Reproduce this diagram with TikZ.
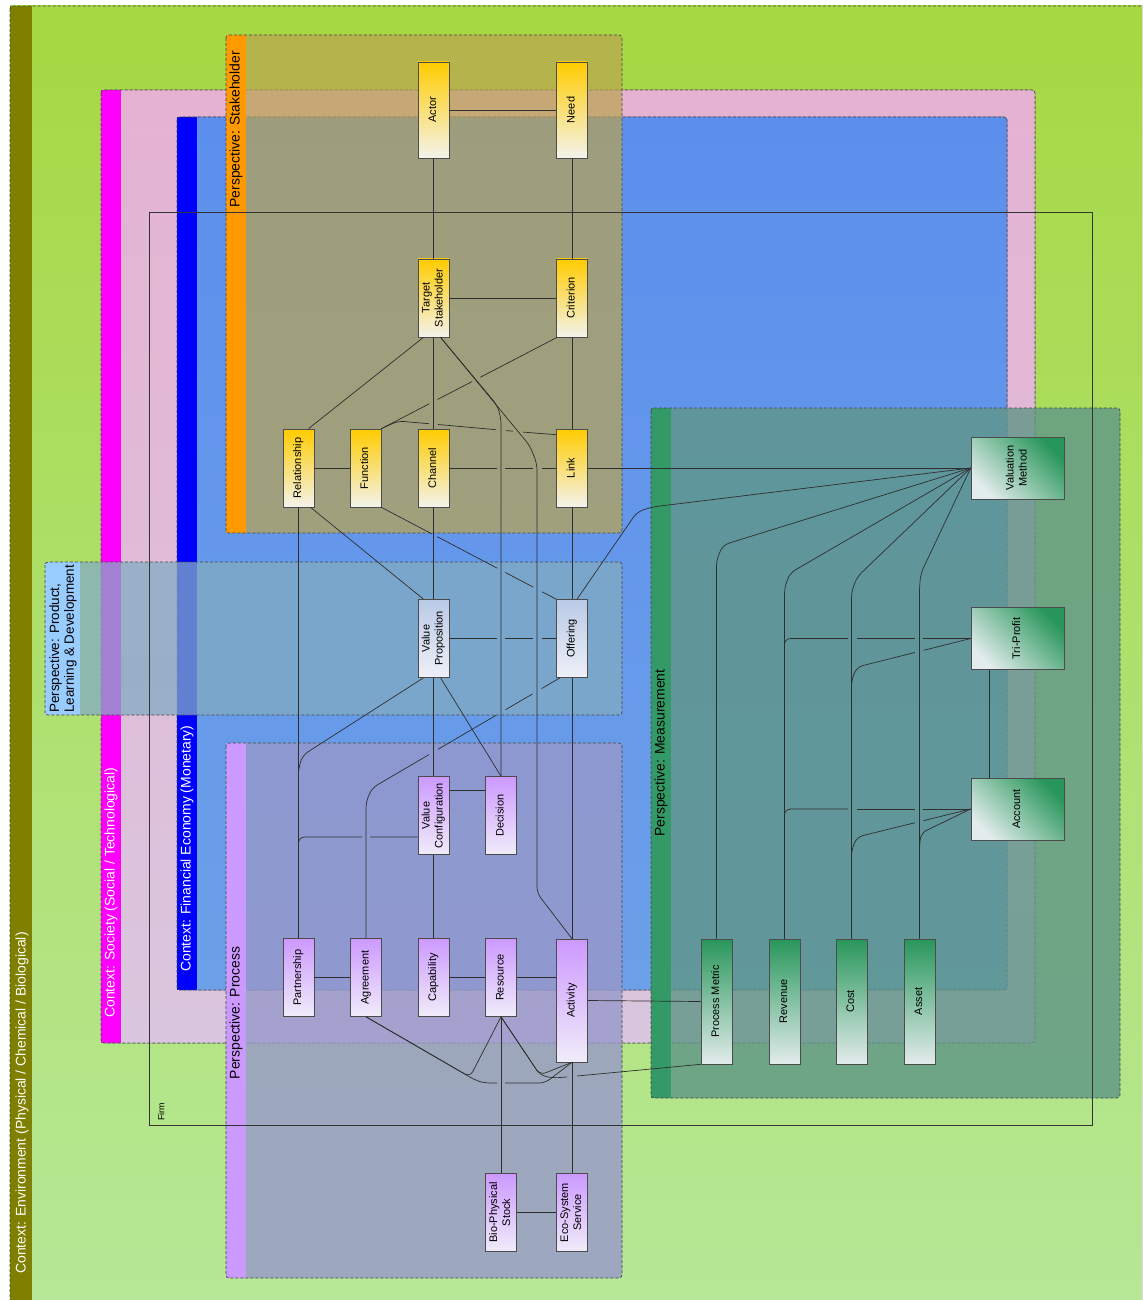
\documentclass[tikz,border=0pt]{standalone}
\usepackage{fontspec}
\usepackage{graphicx}
\setmainfont{Liberation Sans}
\usetikzlibrary{calc}
\definecolor{envTop}{RGB}{166,216,66}
\definecolor{envBot}{RGB}{182,232,152}
\definecolor{olivebar}{RGB}{128,128,0}
\definecolor{socTop}{RGB}{229,178,210}
\definecolor{socBot}{RGB}{218,198,222}
\definecolor{magbar}{RGB}{255,0,255}
\definecolor{finTop}{RGB}{92,143,237}
\definecolor{finBot}{RGB}{108,160,232}
\definecolor{bluebar}{RGB}{0,0,255}
\definecolor{stkFill}{RGB}{186,164,79}
\definecolor{orangebar}{RGB}{255,153,0}
\definecolor{prodFill}{RGB}{131,171,195}
\definecolor{prodBar}{RGB}{153,204,255}
\definecolor{procFill}{RGB}{152,152,202}
\definecolor{violetbar}{RGB}{204,153,255}
\definecolor{measFill}{RGB}{95,150,135}
\definecolor{measBar}{RGB}{51,153,102}
\definecolor{yTop}{RGB}{255,204,0}
\definecolor{yBot}{RGB}{243,243,236}
\definecolor{pTop}{RGB}{186,202,230}
\definecolor{pBot}{RGB}{238,240,248}
\definecolor{vTop}{RGB}{204,153,255}
\definecolor{vBot}{RGB}{240,236,250}
\definecolor{gTop}{RGB}{40,150,90}
\definecolor{gBot}{RGB}{226,236,236}
\definecolor{bordc}{RGB}{70,70,70}
\newcommand{\rt}[1]{\rotatebox{90}{\begin{tabular}{@{}c@{}}#1\end{tabular}}}
\begin{document}
\begin{tikzpicture}[x=1bp,y=-1bp,
  bord/.style={draw=bordc, line width=0.7bp, dash pattern=on 3bp off 2bp, rounded corners=3bp},
  ctxlab/.style={rotate=90, inner sep=0pt, text=white, font=\fontsize{14}{16}\selectfont},
  perlab/.style={rotate=90, inner sep=0pt, text=black, font=\fontsize{14}{16}\selectfont},
  nd/.style={draw=black!70, line width=0.6bp, inner sep=0pt, minimum width=31bp, minimum height=78bp, font=\fontsize{11}{13}\selectfont},
  ynode/.style={nd, top color=yTop, bottom color=yBot},
  pnode/.style={nd, top color=pTop, bottom color=pBot},
  vnode/.style={nd, top color=vTop, bottom color=vBot},
  gnode/.style={nd, top color=gTop, bottom color=gBot},
  gsq/.style={nd, minimum width=93bp, minimum height=62bp, top color=gTop, bottom color=gBot, shading angle=-45},
  ed/.style={draw=black!82, line width=0.7bp, rounded corners=6bp}
]
\useasboundingbox (0,0) rectangle (1142,1300);
\clip (0,0) rectangle (1142,1300);
\fill[white] (0,0) rectangle (1142,1300);

% Context: Environment
\fill[top color=envTop, bottom color=envBot] (10,6) rectangle (1160,1320);
\fill[olivebar] (10,6) rectangle (32,1320);
\draw[bord] (10,6) rectangle (1160,1320);
\node[ctxlab, anchor=west] (envlab) at (22,1274) {Context: Environment (Physical / Chemical / Biological)};

% Context: Society
\fill[top color=socTop, bottom color=socBot, rounded corners=3bp] (101,90) rectangle (1035,1043);
\fill[magbar] (101,90) rectangle (121,1043);
\draw[bord] (101,90) rectangle (1035,1043);
\node[ctxlab, anchor=west] (soclab) at (111,1018) {Context: Society (Social / Technological)};

% Context: Financial
\fill[top color=finTop, bottom color=finBot, rounded corners=3bp] (177,117) rectangle (1007,990);
\fill[bluebar] (177,117) rectangle (197,990);
\draw[bord] (177,117) rectangle (1007,990);
\node[ctxlab, anchor=west] (finlab) at (187,972) {Context: Financial Economy (Monetary)};

% Perspective: Stakeholder
\fill[stkFill, fill opacity=0.7, rounded corners=3bp] (226,35) rectangle (622,533);
\fill[orangebar] (226,35) rectangle (246,533);
\draw[bord] (226,35) rectangle (622,533);
\node[perlab, anchor=east] (stklab) at (236,51) {Perspective: Stakeholder};

% Perspective: Product
\fill[prodFill, fill opacity=0.75, rounded corners=3bp] (45,562) rectangle (622,715);
\fill[prodBar] (45,562) rectangle (80,715);
\draw[bord] (45,562) rectangle (622,715);
\node[perlab, anchor=west, align=left, font=\fontsize{13.5}{15}\selectfont] (prodlab) at (63,713) {Perspective: Product,\\Learning \& Development};

% Perspective: Process
\fill[procFill, fill opacity=0.8, rounded corners=3bp] (226,743) rectangle (622,1278);
\fill[violetbar] (226,743) rectangle (246,1278);
\draw[bord] (226,743) rectangle (622,1278);
\node[perlab] (proclab) at (236,1013) {Perspective: Process};

% Perspective: Measurement
\fill[measFill, fill opacity=0.8, rounded corners=3bp] (651,408) rectangle (1120,1098);
\fill[measBar] (651,408) rectangle (671,1098);
\draw[bord] (651,408) rectangle (1120,1098);
\node[perlab] (measlab) at (661,753) {Perspective: Measurement};

% Firm
\draw[black!80, line width=0.7bp] (149,212) rectangle (1092,1125);
\node[rotate=90, inner sep=0pt, anchor=west, font=\fontsize{9}{10}\selectfont] (firmlab) at (161,1121) {Firm};

% Nodes
\node[ynode, minimum height=96bp] (actor) at (433.5,110) {\rt{Actor}};
\node[ynode, minimum height=96bp] (need) at (572,110) {\rt{Need}};
\node[ynode] (ts) at (433.5,298) {\rt{Target\\Stakeholder}};
\node[ynode] (crit) at (572,298) {\rt{Criterion}};
\node[ynode] (rel) at (298.5,468) {\rt{Relationship}};
\node[ynode] (func) at (365.5,468) {\rt{Function}};
\node[ynode] (chan) at (433.5,468) {\rt{Channel}};
\node[ynode] (link) at (572,468) {\rt{Link}};

\node[pnode] (vp) at (433.5,638.5) {\rt{Value\\Proposition}};
\node[pnode] (off) at (572,638.5) {\rt{Offering}};

\node[vnode] (vc) at (433.5,815.5) {\rt{Value\\Configuration}};
\node[vnode] (dec) at (501,815.5) {\rt{Decision}};
\node[vnode] (part) at (298.5,977.5) {\rt{Partnership}};
\node[vnode] (agr) at (366,977.5) {\rt{Agreement}};
\node[vnode] (cap) at (433.5,977.5) {\rt{Capability}};
\node[vnode] (res) at (501,977.5) {\rt{Resource}};
\node[vnode, minimum height=123bp] (act) at (572,1000.5) {\rt{Activity}};
\node[vnode] (bio) at (501,1212.5) {\rt{Bio-Physical\\Stock}};
\node[vnode] (eco) at (572,1212.5) {\rt{Eco-System\\Service}};

\node[gsq] (vm) at (1017.5,468) {\rt{Valuation\\Method}};
\node[gsq] (tp) at (1017.5,638.5) {\rt{Tri-Profit}};
\node[gsq] (acc) at (1017.5,809) {\rt{Account}};
\node[gnode, minimum height=125bp] (pm) at (716.5,1001.5) {\rt{Process Metric}};
\node[gnode, minimum height=125bp] (rev) at (784.5,1001.5) {\rt{Revenue}};
\node[gnode, minimum height=125bp] (cost) at (851.5,1001.5) {\rt{Cost}};
\node[gnode, minimum height=125bp] (asset) at (919.5,1001.5) {\rt{Asset}};

% ---------- Edges: stakeholder
\path[ed] (actor.east) -- (need.west);
\path[ed] (actor.south) -- (ts.north);
\path[ed] (need.south) -- (crit.north);
\path[ed] (ts.east) -- (crit.west);
\path[ed] ($(ts.south)+(-10,0)$) -- ($(rel.north)+(10,0)$);
% Criterion - Function (with line jumps)
\coordinate (cfA) at ($(crit.south west)+(1,0)$);
\coordinate (cfB) at (func.north east);
\path[ed] (cfA) -- ($(cfA)!0.437!(cfB)$);
\path[ed] ($(cfA)!0.483!(cfB)$) -- ($(cfA)!0.68!(cfB)$);
\path[ed] ($(cfA)!0.727!(cfB)$) -- (cfB);
% Function - Link (with line jumps)
\path[ed] (func.north east) -- (398,421) -- (429,423.7);
\path[ed] (438,424.5) -- (496,429.7);
\path[ed] (506,430.6) -- (513,431.2);
\path[ed] (523,432.1) -- ($(link.north west)+(0,6)$);
\path[ed] (ts.south) -- (chan.north);
\path[ed] (crit.south) -- (link.north);
\path[ed] (rel.east) -- (func.west);
% Channel - Link (with line jumps)
\path[ed] (chan.east) -- (497,468);
\path[ed] (505,468) -- (533,468);
\path[ed] (542,468) -- (link.west);
\path[ed] (link.east) -- (vm.west);
\path[ed] ($(ts.south)+(7,0)$) -- (530,446) -- (537,464) -- (537,893) -- (act.north);
\path[ed] ($(ts.south)+(7,0)$) -- (497,405) -- (501,418) -- (dec.north);
% ---------- product
\path[ed] (chan.south) -- (vp.north);
\path[ed] (link.south) -- (off.north);
\path[ed] ($(rel.south)+(12,0)$) -- ($(vp.north)+(-10,0)$);
% Function - Offering (with line jumps)
\coordinate (foA) at (func.south east);
\coordinate (foB) at (off.north west);
\path[ed] (foA) -- ($(foA)!0.291!(foB)$);
\path[ed] ($(foA)!0.32!(foB)$) -- ($(foA)!0.663!(foB)$);
\path[ed] ($(foA)!0.709!(foB)$) -- ($(foA)!0.869!(foB)$);
\path[ed] ($(foA)!0.92!(foB)$) -- (foB);
\path[ed] (rel.south) -- (rel.south |- part.north);
\path[ed] ($(off.north)+(5,0)$) -- (637,512) -- (652,507) -- (vm.west);
% VP - Offering (with line jumps)
\path[ed] (vp.east) -- (497,638.5);
\path[ed] (505,638.5) -- (533,638.5);
\path[ed] (542,638.5) -- (off.west);
\path[ed] (vp.south) -- (vc.north);
\path[ed] (off.south) -- (act.north);
\path[ed] ($(vp.south)+(-10,0)$) -- (303,755) -- (298.5,768) -- (part.north);
% Offering - Agreement (with line jumps)
\coordinate (oaA) at ($(off.south)+(-12,0)$);
\coordinate (oaB) at (372,788);
\path[ed] (oaA) -- ($(oaA)!0.098!(oaB)$);
\path[ed] ($(oaA)!0.146!(oaB)$) -- ($(oaA)!0.29!(oaB)$);
\path[ed] ($(oaA)!0.338!(oaB)$) -- ($(oaA)!0.649!(oaB)$);
\path[ed] ($(oaA)!0.697!(oaB)$) -- (oaB) -- (366,802) -- (agr.north);
\path[ed] ($(vp.south)+(7,0)$) -- (dec.north);
% ---------- process
\path[ed] ($(vc.north east)+(0,14)$) -- ($(dec.north west)+(0,14)$);
\path[ed] ($(vc.west)+(0,21.5)$) -- (370,837);
\path[ed] (362,837) -- (298.5,837) -- (part.north);
\path[ed] (vc.south) -- (cap.north);
\path[ed] (part.east) -- (agr.west);
\path[ed] (cap.east) -- (res.west);
\path[ed] (res.east) -- ($(act.west)+(0,-23)$);
\path[ed] (act.east) -- (pm.west);
\path[ed] (agr.south) -- (475,1080) -- (484,1083) -- (497,1083);
\path[ed] (505,1083) -- (545,1083) -- (act.south);
\path[ed] (agr.south) -- (470,1077) -- (res.south);
\path[ed] (res.south) -- (540,1075) -- (act.south);
\path[ed] (res.south) -- (540,1075) -- (552,1078) -- (567,1077);
\path[ed] (577,1076) -- (pm.south west);
\path[ed] (res.south) -- (bio.north);
\path[ed] (act.south) -- (eco.north);
\path[ed] (bio.east) -- (eco.west);
% ---------- measurement
\path[ed] (vm.west) -- (723,545) -- (716.5,560) -- (pm.north);
\path[ed] (vm.west) -- (790,573) -- (784.5,588) -- (rev.north);
\path[ed] (vm.west) -- (857,577) -- (851.5,592) -- (cost.north);
\path[ed] (vm.west) -- (921,573) -- (919.5,586) -- (asset.north);
% Tri-Profit - Revenue (with line jumps)
\path[ed] (tp.west) -- (923,638.5);
\path[ed] (915,638.5) -- (857,638.5);
\path[ed] (848,638.5) -- (784.5,638.5) -- (rev.north);
% Tri-Profit - Cost (with line jump)
\coordinate (tcA) at (tp.west);
\coordinate (tcB) at (857,667);
\path[ed] (tcA) -- ($(tcA)!0.415!(tcB)$);
\path[ed] ($(tcA)!0.49!(tcB)$) -- (tcB) -- (851.5,680) -- (cost.north);
\path[ed] ($(tp.south)+(-28.5,0)$) -- ($(acc.north)+(-28.5,0)$);
% Account - Revenue (with line jumps)
\path[ed] (acc.west) -- (923,809);
\path[ed] (915,809) -- (857,809);
\path[ed] (848,809) -- (784.5,809) -- (rev.north);
% Account - Cost (with line jump)
\coordinate (acA) at (acc.west);
\coordinate (acB) at (857,837);
\path[ed] (acA) -- ($(acA)!0.415!(acB)$);
\path[ed] ($(acA)!0.49!(acB)$) -- (acB) -- (851.5,850) -- (cost.north);
\path[ed] (acc.west) -- (921,833) -- (919.5,846) -- (asset.north);
\end{tikzpicture}
\end{document}
